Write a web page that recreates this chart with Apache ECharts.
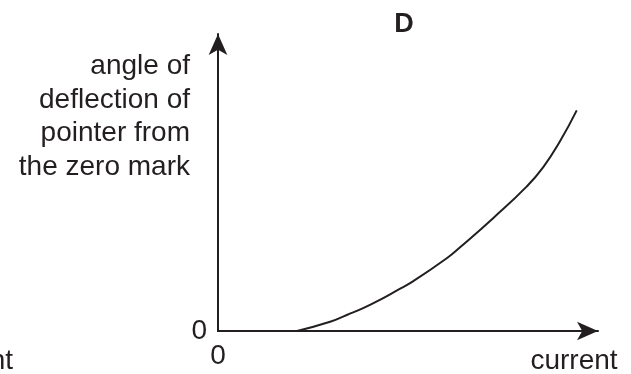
<!DOCTYPE html>
<html>
<head>
<meta charset="utf-8">
<script src="https://cdn.jsdelivr.net/npm/echarts@6/dist/echarts.min.js"></script>
<style>
  html, body { margin: 0; padding: 0; background: #fff; }
  #chart { width: 631px; height: 374px; }
</style>
</head>
<body>
<div id="chart"></div>
<script>
// sketch graph D: deflection only starts after some current, then grows faster
var current = [20.8, 29.5, 33.9, 38.2, 42.6, 47.0, 51.4, 60.2, 63.7, 72.4, 81.2, 85.6, 90.0, 94.4];
var deflection = [0, 3.1, 5.4, 7.7, 10.5, 13.6, 16.8, 24.5, 28.2, 38.0, 48.6, 55.2, 63.9, 74.3];
var panelTitle = "D";
var xName = "current";
var yName = "angle of\ndeflection of\npointer from\nthe zero mark";

var ink = "#231f20";
var font = '"Liberation Sans", Arial, sans-serif';

var chart = echarts.init(document.getElementById("chart"));

var axisCommon = {
  type: "value",
  min: 0,
  max: 100,
  interval: 100,
  splitLine: { show: false },
  axisTick: { show: false },
  axisLine: {
    show: true,
    symbol: ["none", "arrow"],
    symbolSize: [14, 21],
    lineStyle: { color: ink, width: 2 }
  }
};

chart.setOption({
  animation: false,
  grid: { left: 218, right: 33, top: 34, bottom: 43 },
  xAxis: Object.assign({}, axisCommon, {
    axisLabel: {
      margin: 11,
      fontSize: 28,
      fontFamily: font,
      color: ink,
      formatter: function (v) { return v === 0 ? "0" : ""; }
    }
  }),
  yAxis: Object.assign({}, axisCommon, {
    axisLabel: {
      margin: 11,
      fontSize: 28,
      fontFamily: font,
      color: ink,
      padding: [4, 0, 0, 0],
      formatter: function (v) { return v === 0 ? "0" : ""; }
    }
  }),
  series: [{
    type: "line",
    data: current.map(function (c, i) { return [c, deflection[i]]; }),
    smooth: 0.5,
    symbol: "none",
    lineStyle: { color: ink, width: 2 }
  }],
  graphic: [
    {
      type: "text", x: 404, y: 25,
      style: { text: panelTitle, fontSize: 27, fontWeight: "bold", fontFamily: font, fill: ink, textAlign: "center", textVerticalAlign: "middle" }
    },
    {
      type: "text", x: 190, y: 117,
      style: { text: yName, fontSize: 28, lineHeight: 33.5, fontFamily: font, fill: ink, textAlign: "right", textVerticalAlign: "middle" }
    },
    {
      type: "text", x: 574, y: 361,
      style: { text: xName, fontSize: 28, fontFamily: font, fill: ink, textAlign: "center", textVerticalAlign: "middle" }
    },
    {
      // tail of the neighbouring panel's label
      type: "text", x: 13, y: 361,
      style: { text: "nt", fontSize: 28, fontFamily: font, fill: ink, textAlign: "right", textVerticalAlign: "middle" }
    }
  ]
});
</script>
</body>
</html>
